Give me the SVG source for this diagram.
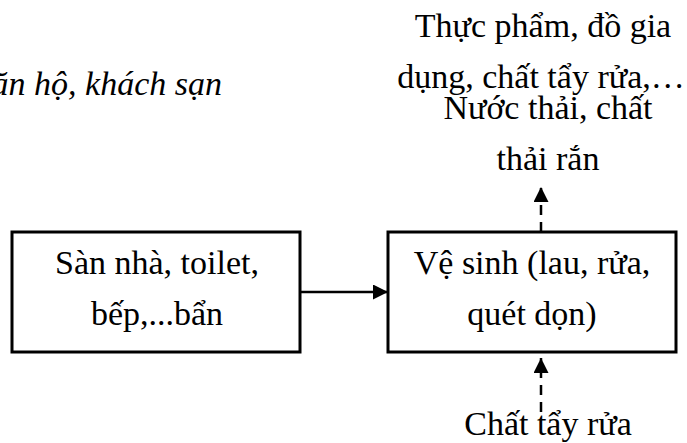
<svg xmlns="http://www.w3.org/2000/svg" width="687" height="443" viewBox="0 0 687 443">
  <style>
    .box { fill: #ffffff; stroke: #000000; stroke-width: 3; }
    .t { font-family: "Liberation Serif", "Times New Roman", serif; font-size: 34px; fill: #000000; text-anchor: middle; }
    .ti { font-family: "Liberation Serif", "Times New Roman", serif; font-size: 34px; font-style: italic; fill: #000000; text-anchor: end; }
    .solid { stroke: #000000; stroke-width: 2.5; fill: none; }
    .dash { stroke: #000000; stroke-width: 2.5; fill: none; stroke-dasharray: 10 7; }
  </style>
  <defs>
    <marker id="head" markerWidth="16" markerHeight="16" refX="15" refY="7.5" orient="auto" markerUnits="userSpaceOnUse">
      <path d="M0,0 L15,7.5 L0,15 Z" fill="#000000"/>
    </marker>
  </defs>
  <rect width="687" height="443" fill="#ffffff"/>

  <!-- heading text, running off the left edge -->
  <text class="ti" x="222" y="95">căn hộ, khách sạn</text>

  <g id="connectors">
    <line class="solid" x1="300" y1="292" x2="388" y2="292" marker-end="url(#head)"/>
    <line class="dash" x1="541" y1="232" x2="541" y2="187" marker-end="url(#head)"/>
    <line class="dash" x1="541" y1="412" x2="541" y2="358" marker-end="url(#head)"/>
  </g>

  <g id="node-dirty">
    <rect class="box" x="12" y="232" width="288" height="120"/>
    <text class="t" x="157" y="274">Sàn nhà, toilet,</text>
    <text class="t" x="157" y="325">bếp,...bẩn</text>
  </g>

  <g id="node-cleaning">
    <rect class="box" x="388" y="232" width="288" height="120"/>
    <text class="t" x="532" y="274">Vệ sinh (lau, rửa,</text>
    <text class="t" x="532" y="325">quét dọn)</text>
  </g>

  <g id="node-inputs">
    <text class="t" x="543" y="37">Thực phẩm, đồ gia</text>
    <text class="t" x="541" y="88">dụng, chất tẩy rửa,…</text>
  </g>

  <g id="node-waste">
    <text class="t" x="548" y="119">Nước thải, chất</text>
    <text class="t" x="548" y="170">thải rắn</text>
  </g>

  <g id="node-detergent">
    <text class="t" x="548" y="435">Chất tẩy rửa</text>
  </g>
</svg>
